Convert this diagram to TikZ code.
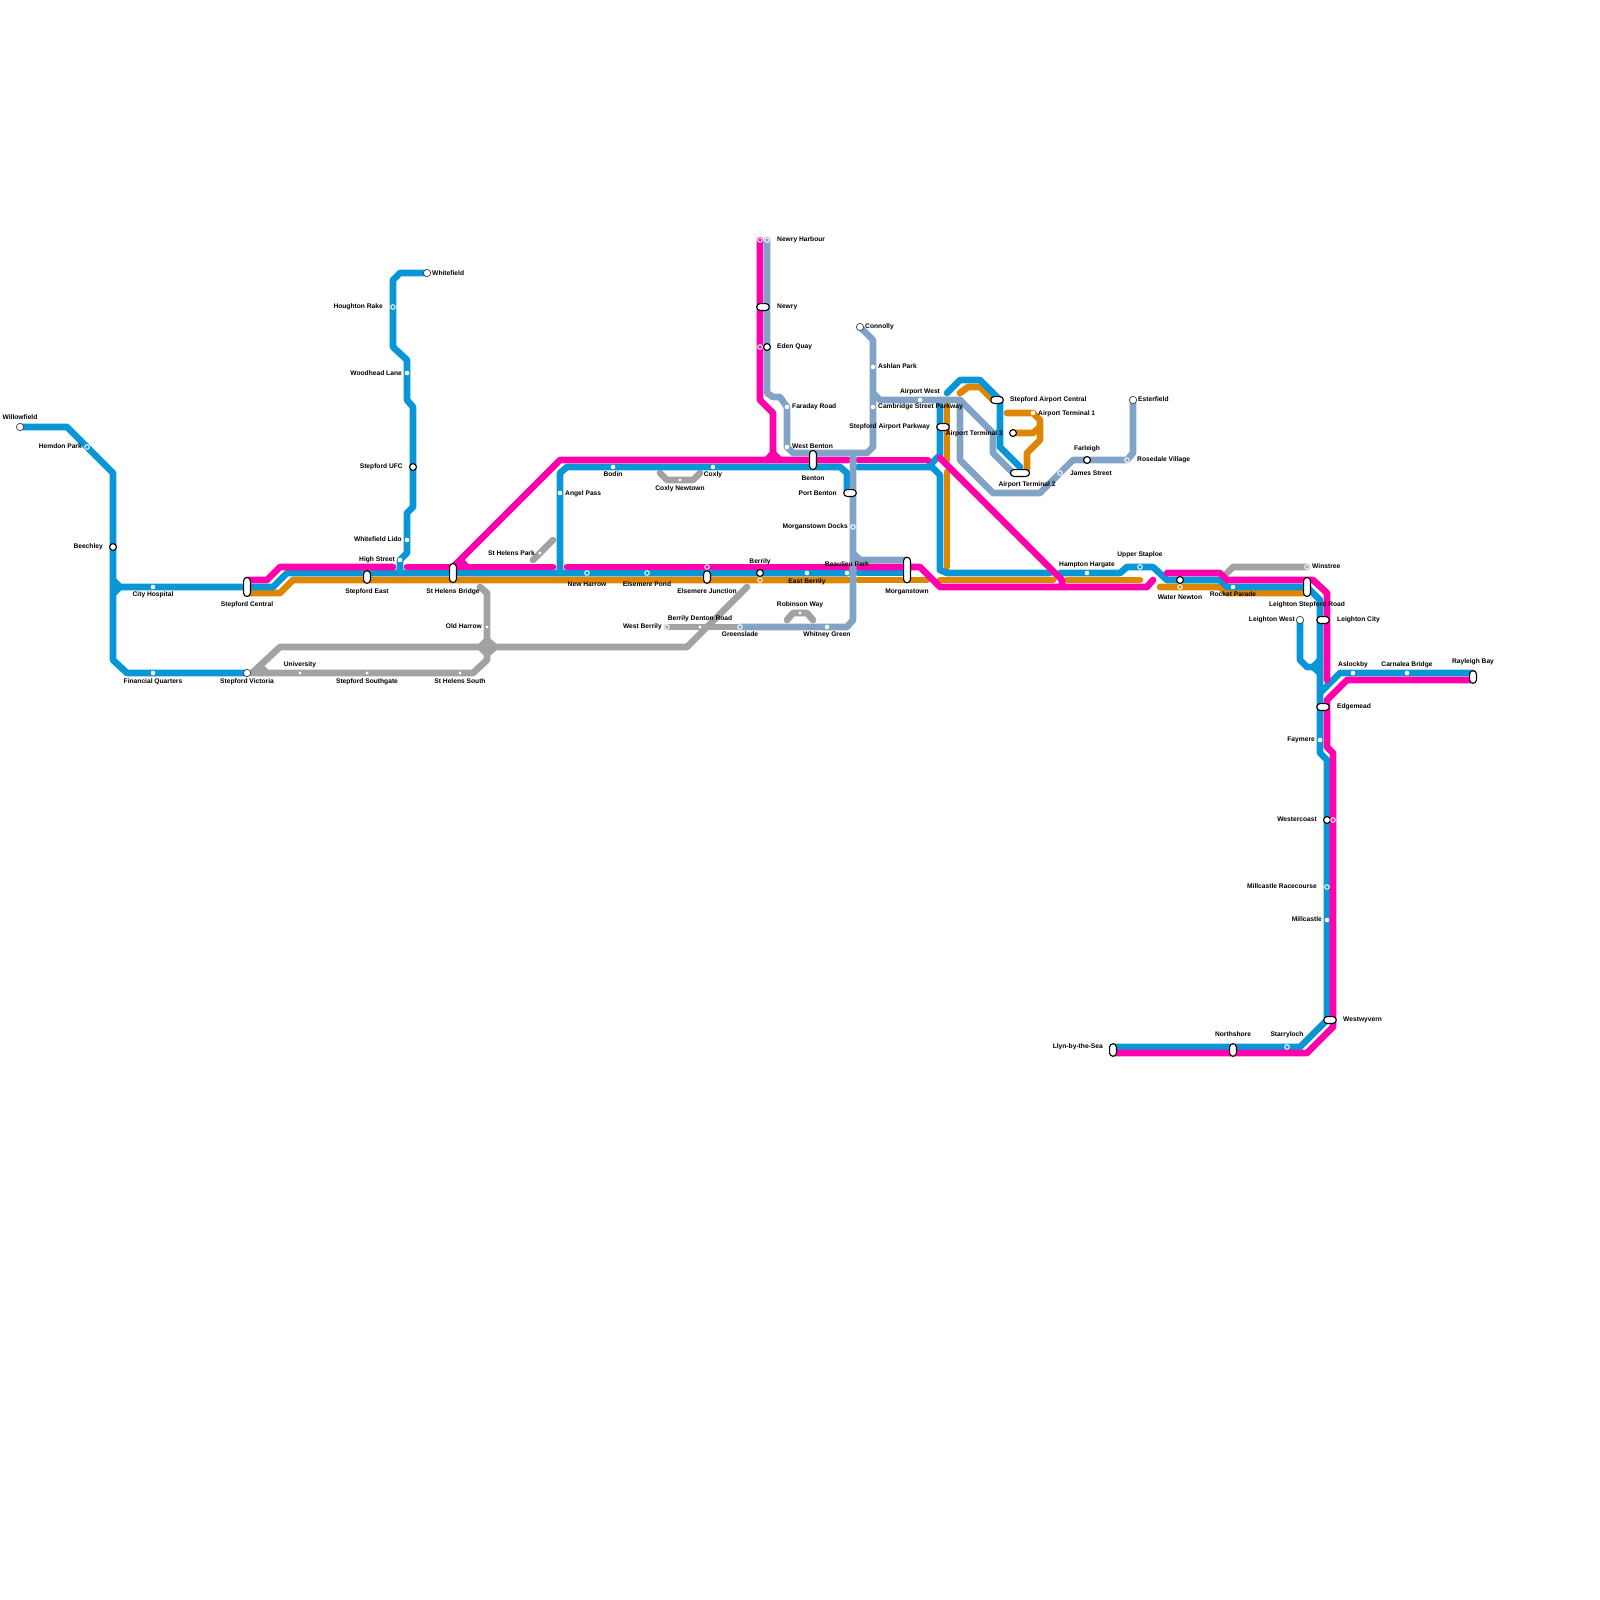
\documentclass[tikz,border=0pt]{standalone}
\usepackage{fontspec}
\setmainfont{Liberation Sans}
\pgfdeclarelayer{net}
\pgfsetlayers{net,main}
\definecolor{cblue}{HTML}{0896D7}
\definecolor{cpink}{HTML}{FF00AC}
\definecolor{corange}{HTML}{DF8600}
\definecolor{csteel}{HTML}{81A3C8}
\definecolor{cgrey}{HTML}{A2A2A2}
\tikzset{
 ln/.style={line width=6.67pt,line cap=round,line join=round},
 bl/.style={ln,draw=cblue}, pk/.style={ln,draw=cpink}, og/.style={ln,draw=corange},
 st/.style={ln,draw=csteel}, gr/.style={ln,draw=cgrey},
 lbl/.style={font=\bfseries\fontsize{6.67pt}{7pt}\selectfont,inner sep=0pt,text=black,yshift=-0.6pt},
 sdot/.style={circle,fill=white,inner sep=0pt,minimum size=4.6pt},
 sring/.style={circle,draw=white,line width=1pt,inner sep=0pt,minimum size=4.5pt},
 sterm/.style={circle,fill=white,draw=black!75,line width=.7pt,inner sep=0pt,minimum size=7.3pt},
 sbig/.style={circle,fill=white,draw=black,line width=1.1pt,inner sep=0pt,minimum size=6.9pt},
 pill/.style={rectangle,rounded corners=3.4pt,fill=white,draw=black,line width=1.1pt,inner sep=0pt},
 pv/.style={pill,minimum width=6.9pt,minimum height=#1},
 ph/.style={pill,minimum height=6.9pt,minimum width=#1},
}
\newcommand\lab[5]{\node[lbl,anchor=#4] (#1) at (#2,#3) {#5};}
\begin{document}
\begin{tikzpicture}[x=1pt,y=-1pt]
\useasboundingbox (0,0) rectangle (1600,1600);
% stations
\node[sterm] (willowfield) at (20,427) {};
\node[sring] (hemdon) at (87,447) {};
\node[sbig] (beechley) at (113,547) {};
\node[sdot] (cityhosp) at (153,587) {};
\node[sdot] (finq) at (153,673) {};
\node[sterm] (victoria) at (247,673) {};
\node[pv=19pt] (stepcentral) at (247,587) {};
\node[pv=12.5pt] (stepeast) at (367,577) {};
\node[pv=19pt] (sthelensbr) at (453,573) {};
\node[sterm] (whitefield) at (427,273) {};
\node[sring] (houghton) at (393,307) {};
\node[sdot] (woodhead) at (407,373) {};
\node[sbig] (stepufc) at (413,467) {};
\node[sdot] (whitelido) at (407,540) {};
\node[sdot] (highst) at (400,560) {};
\node[sdot,minimum size=3.2pt] (university) at (300,673) {};
\node[sdot,minimum size=3.2pt] (southgate) at (367,673) {};
\node[sdot,minimum size=3.2pt] (shsouth) at (460,673) {};
\node[sdot,minimum size=3.2pt] (oldharrow) at (487,627) {};
\node[sdot,minimum size=3.2pt] (shpark) at (540,553) {};
\node[sdot] (angel) at (560,493) {};
\node[sdot] (bodin) at (613,467) {};
\node[sdot] (coxly) at (713,467) {};
\node[sdot,minimum size=3.2pt] (coxlyn) at (680,480) {};
\node[sring] (newharrow) at (587,573) {};
\node[sring] (elsepond) at (647,573) {};
\node[pv=12.5pt] (elsejn) at (707,577) {};
\node[sring] (elsejnp) at (707,567) {};
\node[sbig] (berrily) at (760,573) {};
\node[sring] (berrilyo) at (760,580) {};
\node[sdot] (eastberrily) at (807,573) {};
\node[sdot] (beaulieu) at (847,573) {};
\node[sring] (westberrily) at (667,627) {};
\node[sdot,minimum size=3.2pt] (denton) at (700,627) {};
\node[sring] (greenslade) at (740,627) {};
\node[sdot] (whitney) at (827,627) {};
\node[sdot,minimum size=3.2pt] (robinson) at (800,613) {};
\node[sring] (morgdocks) at (853,527) {};
\node[ph=12.5pt] (portbenton) at (850,493) {};
\node[pv=19pt] (benton) at (813,460) {};
\node[pv=25.5pt] (morganstown) at (907,570) {};
\node[sring] (newryhp) at (760,240) {};
\node[sring] (newryh) at (767,240) {};
\node[ph=12.5pt] (newry) at (763,307) {};
\node[sring] (edenp) at (760,347) {};
\node[sbig] (eden) at (767,347) {};
\node[sdot] (faraday) at (787,407) {};
\node[sdot] (westbenton) at (787,447) {};
\node[sterm] (connolly) at (860,327) {};
\node[sdot] (ashlan) at (873,367) {};
\node[sdot] (cambridge) at (873,407) {};
\node[sdot] (airwest) at (920,400) {};
\node[ph=12.5pt] (airparkway) at (943,427) {};
\node[ph=12.5pt] (aircentral) at (997,400) {};
\node[ph=19pt] (term2) at (1020,473) {};
\node[sdot] (term1) at (1033,413) {};
\node[sbig] (term3) at (1013,433) {};
\node[sring] (james) at (1060,473) {};
\node[sbig] (farleigh) at (1087,460) {};
\node[sring] (rosedale) at (1127,460) {};
\node[sterm] (esterfield) at (1133,400) {};
\node[sdot] (hampton) at (1087,573) {};
\node[sring] (staploe) at (1140,567) {};
\node[sbig] (water) at (1180,580) {};
\node[sring] (watero) at (1180,587) {};
\node[sdot] (rocket) at (1233,587) {};
\node[sring] (winstree) at (1307,567) {};
\node[pv=19pt] (leightonsr) at (1307,587) {};
\node[sterm] (leightonw) at (1300,620) {};
\node[ph=12.5pt] (leightonc) at (1323,620) {};
\node[sdot] (aslockby) at (1353,673) {};
\node[sdot] (carnalea) at (1407,673) {};
\node[pv=12.5pt] (rayleigh) at (1473,677) {};
\node[ph=12.5pt] (edgemead) at (1323,707) {};
\node[sdot] (faymere) at (1320,740) {};
\node[sbig] (westercoast) at (1327,820) {};
\node[sring] (westercoastp) at (1333,820) {};
\node[sring] (millrace) at (1327,887) {};
\node[sdot] (millcastle) at (1327,920) {};
\node[ph=12.5pt] (westwyvern) at (1330,1020) {};
\node[sring] (starryloch) at (1287,1047) {};
\node[pv=12.5pt] (northshore) at (1233,1050) {};
\node[pv=12.5pt] (llyn) at (1113,1050) {};
% free line ends
\coordinate (gapL1) at (848,460); \coordinate (gapR1) at (858,460);
\coordinate (gapL2) at (848,567); \coordinate (gapR2) at (858,567);
\coordinate (gapL3) at (848,580); \coordinate (gapR3) at (858,580);
\coordinate (gapB2) at (858,573); \coordinate (gapB1) at (858,467);
\coordinate (trunkT) at (853,453);
\coordinate (branchA) at (873,393);
\coordinate (airJ) at (960,400);
\coordinate (orangeS) at (247,593);
% lines
\begin{pgfonlayer}{net}
% grey
\draw[gr] (747,587) -- (687,647) -- (280,647) -- (252,673) -- (university.center) -- (southgate.center) -- (shsouth.center) -- (473,673) -- (487,660) -- (oldharrow.center) -- (487,593) -- (480,587);
\draw[gr] (267,673) -- (260,666);
\draw[gr] (495,647) -- (487,640) -- (480,647) -- (487,654) -- cycle;
\draw[gr] (533,560) -- (shpark.center) -- (553,540);
\draw[gr] (660,473) -- (667,480) -- (coxlyn.center) -- (693,480) -- (700,473);
\draw[gr] (787,620) -- (793,613) -- (robinson.center) -- (807,613) -- (813,620);
\draw[gr] (westberrily.center) -- (denton.center) -- (737,627);
\draw[gr] (1227,573) -- (1233,567) -- (winstree.center);
% orange
\draw[og] (orangeS) -- (280,593) -- (293,580) -- (gapL3);
\draw[og] (gapR3) -- (927,580);
\draw[og] (947,400) -- (947,460);
\draw[og] (947,472) -- (947,567);
\draw[og] (940,580) -- (1053,580);
\draw[og] (1067,580) -- (1140,580);
\draw[og] (960,393) -- (968,387) -- (980,387) -- (993,400);
\draw[og] (1007,413) -- (term1.center) -- (1040,420) -- (1040,440) -- (1027,453) -- (1027,470);
\draw[og] (term3.center) -- (1033,433) -- (1040,427);
\draw[og] (1160,587) -- (watero.center) -- (1220,587) -- (1227,593) -- (1303,593);
% blue
\draw[bl] (willowfield.center) -- (67,427) -- (hemdon.center) -- (113,473) -- (beechley.center) -- (113,660) -- (127,673) -- (finq.center) -- (victoria.center);
\draw[bl] (113,580) -- (120,587) -- (cityhosp.center) -- (stepcentral.center);
\draw[bl] (113,594) -- (120,587);
\draw[bl] (stepcentral.center) -- (273,587) -- (287,573) -- (sthelensbr.center) -- (newharrow.center) -- (elsepond.center) -- (berrily.center) -- (eastberrily.center) -- (beaulieu.center) -- (848,573);
\draw[bl] (gapB2) -- (907,573);
\draw[bl] (whitefield.center) -- (400,273) -- (393,280) -- (houghton.center) -- (393,347) -- (407,360) -- (woodhead.center) -- (407,400) -- (413,407) -- (stepufc.center) -- (413,507) -- (407,513) -- (whitelido.center) -- (407,553) -- (highst.center) -- (400,573);
\draw[bl] (560,573) -- (angel.center) -- (560,473) -- (567,467) -- (bodin.center) -- (coxly.center) -- (840,467) -- (847,473) -- (847,493);
\draw[bl] (gapB1) -- (932,467) -- (940,475) -- (940,570) -- (947,573) -- (1050,573);
\draw[bl] (928,467) -- (940,455) -- (940,400);
\draw[bl] (1060,573) -- (hampton.center) -- (1120,573) -- (1127,567) -- (staploe.center) -- (1153,567) -- (1167,580) -- (water.center) -- (1220,580) -- (1227,587) -- (rocket.center) -- (leightonsr.center) -- (1320,600) -- (1320,753) -- (1327,760) -- (westercoast.center) -- (millrace.center) -- (millcastle.center) -- (1327,1020) -- (1300,1047) -- (starryloch.center) -- (1113,1047);
\draw[bl] (leightonw.center) -- (1300,660) -- (1307,667) -- (1313,667) -- (1320,660);
\draw[bl] (1313,667) -- (1320,673);
\draw[bl] (1473,673) -- (carnalea.center) -- (aslockby.center) -- (1340,673) -- (1320,693);
\draw[bl] (947,393) -- (960,380) -- (980,380) -- (1000,400) -- (1000,447) -- (1020,467);
% pink
\draw[pk] (247,580) -- (267,580) -- (280,567) -- (393,567);
\draw[pk] (407,567) -- (553,567);
\draw[pk] (453,567) -- (560,460) -- (gapL1);
\draw[pk] (460,560) -- (467,567);
\draw[pk] (gapR1) -- (928,460);
\draw[pk] (newryhp.center) -- (edenp.center) -- (760,400) -- (773,413) -- (773,453) -- (767,460);
\draw[pk] (773,453) -- (780,460);
\draw[pk] (567,567) -- (gapL2);
\draw[pk] (gapR2) -- (920,567) -- (940,587) -- (1147,587) -- (1153,580);
\draw[pk] (940,458) -- (1062,580) -- (1062,587);
\draw[pk] (1167,573) -- (1220,573) -- (1227,580) -- (1313,580) -- (1327,593) -- (1327,680);
\draw[pk] (1473,680) -- (1347,680) -- (1327,700) -- (1327,747) -- (1333,753) -- (westercoastp.center) -- (1333,1027) -- (1307,1053) -- (1113,1053);
% steel
\draw[st] (newryh.center) -- (eden.center) -- (767,393) -- (773,397) -- (780,397) -- (faraday.center) -- (westbenton.center) -- (793,453) -- (867,453) -- (873,447) -- (cambridge.center) -- (ashlan.center) -- (873,340) -- (connolly.center);
\draw[st] (trunkT) -- (morgdocks.center) -- (853,620) -- (847,627) -- (whitney.center) -- (greenslade.center);
\draw[st] (853,553) -- (860,560) -- (907,560);
\draw[st] (branchA) -- (880,400) -- (airwest.center) -- (airJ);
\draw[st] (airJ) -- (960,460) -- (993,493) -- (1040,493) -- (james.center) -- (1073,460) -- (farleigh.center) -- (rosedale.center) -- (1127,460) -- (1133,453) -- (esterfield.center);
\draw[st] (airJ) -- (993,433) -- (993,453) -- (1013,473);
\end{pgfonlayer}
% labels
\lab{l1}{20}{417}{center}{Willowfield}
\lab{l2}{82}{446}{east}{Hemdon Park}
\lab{l3}{103}{546}{east}{Beechley}
\lab{l4}{153}{594}{center}{City Hospital}
\lab{l5}{247}{604}{center}{Stepford Central}
\lab{l6}{153}{681}{center}{Financial Quarters}
\lab{l7}{247}{681}{center}{Stepford Victoria}
\lab{l8}{300}{664}{center}{University}
\lab{l9}{367}{681}{center}{Stepford Southgate}
\lab{l10}{460}{681}{center}{St Helens South}
\lab{l11}{367}{591}{center}{Stepford East}
\lab{l12}{453}{591}{center}{St Helens Bridge}
\lab{l13}{482}{626}{east}{Old Harrow}
\lab{l14}{395}{559}{east}{High Street}
\lab{l15}{402}{539}{east}{Whitefield Lido}
\lab{l16}{403}{466}{east}{Stepford UFC}
\lab{l17}{402}{373}{east}{Woodhead Lane}
\lab{l18}{383}{306}{east}{Houghton Rake}
\lab{l19}{432}{273}{west}{Whitefield}
\lab{l20}{535}{553}{east}{St Helens Park}
\lab{l21}{565}{493}{west}{Angel Pass}
\lab{l22}{613}{474}{center}{Bodin}
\lab{l23}{713}{474}{center}{Coxly}
\lab{l24}{680}{488}{center}{Coxly Newtown}
\lab{l25}{587}{584}{center}{New Harrow}
\lab{l26}{647}{584}{center}{Elsemere Pond}
\lab{l27}{707}{591}{center}{Elsemere Junction}
\lab{l28}{760}{561}{center}{Berrily}
\lab{l29}{807}{581}{center}{East Berrily}
\lab{l30}{847}{564}{center}{Beaulieu Park}
\lab{l31}{800}{604}{center}{Robinson Way}
\lab{l32}{700}{618}{center}{Berrily Denton Road}
\lab{l33}{662}{626}{east}{West Berrily}
\lab{l34}{740}{634}{center}{Greenslade}
\lab{l35}{827}{634}{center}{Whitney Green}
\lab{l36}{848}{526}{east}{Morganstown Docks}
\lab{l37}{837}{493}{east}{Port Benton}
\lab{l38}{813}{478}{center}{Benton}
\lab{l39}{792}{446}{west}{West Benton}
\lab{l40}{907}{591}{center}{Morganstown}
\lab{l41}{777}{239}{west}{Newry Harbour}
\lab{l42}{777}{306}{west}{Newry}
\lab{l43}{777}{346}{west}{Eden Quay}
\lab{l44}{792}{406}{west}{Faraday Road}
\lab{l45}{865}{326}{west}{Connolly}
\lab{l46}{878}{366}{west}{Ashlan Park}
\lab{l47}{878}{406}{west}{Cambridge Street Parkway}
\lab{l48}{920}{391}{center}{Airport West}
\lab{l49}{930}{426}{east}{Stepford Airport Parkway}
\lab{l50}{1003}{433}{east}{Airport Terminal 3}
\lab{l51}{1010}{399}{west}{Stepford Airport Central}
\lab{l52}{1038}{413}{west}{Airport Terminal 1}
\lab{l53}{1027}{484}{center}{Airport Terminal 2}
\lab{l54}{1070}{473}{west}{James Street}
\lab{l55}{1087}{448}{center}{Farleigh}
\lab{l56}{1137}{459}{west}{Rosedale Village}
\lab{l57}{1138}{399}{west}{Esterfield}
\lab{l58}{1087}{564}{center}{Hampton Hargate}
\lab{l59}{1140}{554}{center}{Upper Staploe}
\lab{l60}{1180}{597}{center}{Water Newton}
\lab{l61}{1233}{594}{center}{Rocket Parade}
\lab{l62}{1312}{566}{west}{Winstree}
\lab{l63}{1307}{604}{center}{Leighton Stepford Road}
\lab{l64}{1295}{619}{east}{Leighton West}
\lab{l65}{1337}{619}{west}{Leighton City}
\lab{l66}{1353}{664}{center}{Aslockby}
\lab{l67}{1407}{664}{center}{Carnalea Bridge}
\lab{l68}{1473}{661}{center}{Rayleigh Bay}
\lab{l69}{1337}{706}{west}{Edgemead}
\lab{l70}{1315}{739}{east}{Faymere}
\lab{l71}{1317}{819}{east}{Westercoast}
\lab{l72}{1317}{886}{east}{Millcastle Racecourse}
\lab{l73}{1322}{919}{east}{Millcastle}
\lab{l74}{1343}{1019}{west}{Westwyvern}
\lab{l75}{1287}{1034}{center}{Starryloch}
\lab{l76}{1233}{1034}{center}{Northshore}
\lab{l77}{1103}{1046}{east}{Llyn-by-the-Sea}
\end{tikzpicture}
\end{document}
